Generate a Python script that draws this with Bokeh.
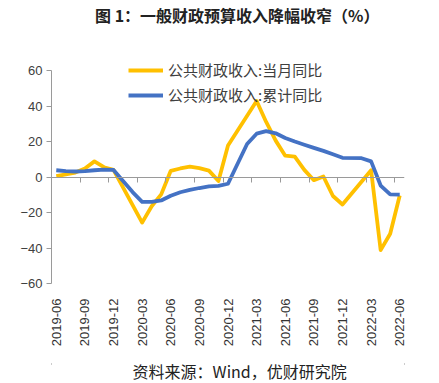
import math
from bokeh.plotting import figure
from bokeh.layouts import column
from bokeh.core.properties import value
from bokeh.models import (ColumnDataSource, FixedTicker, LinearAxis, Range1d, Legend,
                          LegendItem, CustomJSTickFormatter, Div)
from bokeh.embed import file_html
from bokeh.resources import INLINE

# ---------------- data ----------------
months = [
    "2019-06", "2019-07", "2019-08", "2019-09", "2019-10", "2019-11", "2019-12",
    "2020-01", "2020-02", "2020-03", "2020-04", "2020-05", "2020-06",
    "2020-07", "2020-08", "2020-09", "2020-10", "2020-11", "2020-12",
    "2021-01", "2021-02", "2021-03", "2021-04", "2021-05", "2021-06",
    "2021-07", "2021-08", "2021-09", "2021-10", "2021-11", "2021-12",
    "2022-01", "2022-02", "2022-03", "2022-04", "2022-05", "2022-06",
]
# 公共财政收入:当月同比 (%)
monthly_yoy = [
    0.5, 1.5, 2.5, 4.8, 8.8, 5.5, 4.0,
    None, None, -25.7, -16.5, -9.8, 3.5,
    4.8, 5.8, 5.0, 3.6, -2.3, 17.8,
    None, None, 42.8, 31.0, 20.5, 12.0,
    11.5, 4.0, -1.8, 0.3, -10.7, -15.5,
    None, None, 3.8, -41.2, -32.0, -10.4,
]
# 公共财政收入:累计同比 (%)
cumulative_yoy = [
    3.8, 3.3, 3.1, 3.3, 3.8, 4.1, 4.0,
    None, -8.5, -14.0, -14.0, -13.2, -10.6,
    -8.6, -7.3, -6.2, -5.3, -5.0, -3.8,
    None, 18.6, 24.4, 25.8, 24.6, 22.0,
    20.0, 18.2, 16.4, 14.7, 12.8, 10.8,
    None, 10.6, 8.8, -4.8, -9.8, -9.9,
]
series_names = ["公共财政收入:当月同比", "公共财政收入:累计同比"]
series_colors = ["#FFC000", "#4472C4"]
y_ticks = [-60, -40, -20, 0, 20, 40, 60]
label_step = 3
title_text = "图 1：一般财政预算收入降幅收窄（%）"
source_text = "资料来源：Wind，优财研究院"


def make_source(vals):
    xs = [i for i, v in enumerate(vals) if v is not None]
    ys = [vals[i] for i in xs]
    return ColumnDataSource(dict(x=xs, y=ys, month=[months[i] for i in xs]))


W = 439
cjk = "Noto Sans CJK SC"
rule_color = "#333333"
RULE_LEFT = 7


def text_strip(height, text, tx, ty, size, bold):
    """Text strip whose data coordinates equal its pixels (y measured up from the bottom)."""
    f = figure(width=W, height=height, output_backend="svg", toolbar_location=None,
               title=None, x_range=Range1d(0, W), y_range=Range1d(0, height),
               x_axis_type=None, y_axis_type=None, min_border=0)
    f.grid.visible = False
    f.outline_line_color = None
    f.text(x=[tx], y=[height - ty], text=[text], text_align="center", text_baseline="middle",
           text_font=value(cjk), text_font_style="bold" if bold else "normal",
           text_font_size=size, text_color="#222222")
    return f


def rule():
    html = ('<div style="width:%dpx;height:2px;margin:0 0 0 %dpx;padding:0;'
            'background:%s;"></div>' % (W - RULE_LEFT, RULE_LEFT, rule_color))
    return Div(text=html, width=W, height=2, margin=(0, 0, 0, 0))


# ---------------- title strip ----------------
TH = 28
top = text_strip(TH, title_text, 231, 14, "16px", True)

# ---------------- main chart ----------------
MH = 323
ML, MR, MT, MB = 51, 35, 10, 70
px_per_unit = 1.775
frame_h = MH - MT - MB
y_top = -60 + frame_h / px_per_unit

p = figure(width=W, height=MH, output_backend="svg", toolbar_location=None, title=None,
           x_range=Range1d(-0.5, len(months) - 0.5), y_range=Range1d(-60, y_top),
           min_border_left=ML, min_border_right=MR, min_border_top=MT, min_border_bottom=MB)
p.grid.visible = False
p.outline_line_color = None

axis_gray = "#9a9a9a"
label_font = "Liberation Sans"

ya = p.yaxis[0]
ya.ticker = FixedTicker(ticks=y_ticks)
ya.bounds = (-60, 60)
ya.axis_line_color = axis_gray
ya.major_tick_line_color = axis_gray
ya.major_tick_in = 0
ya.major_tick_out = 5
ya.minor_tick_line_color = None
ya.major_label_standoff = 4
ya.major_label_text_font = label_font
ya.major_label_text_font_size = "13px"
ya.major_label_text_color = "#404040"

xa = p.xaxis[0]
label_idx = list(range(0, len(months), label_step))
xa.ticker = FixedTicker(ticks=label_idx)
xa.major_label_overrides = {i: months[i] for i in label_idx}
xa.major_label_orientation = math.pi / 2
xa.axis_line_color = None
xa.major_tick_line_color = None
xa.minor_tick_line_color = None
xa.major_label_standoff = 9
xa.major_label_text_font = label_font
xa.major_label_text_font_size = "13px"
xa.major_label_text_color = "#333333"

zero_axis = LinearAxis(fixed_location=0,
                       ticker=FixedTicker(ticks=[i - 0.5 for i in range(label_step, len(months), label_step)]),
                       formatter=CustomJSTickFormatter(code="return ''"),
                       axis_line_color=axis_gray, axis_line_width=1.2,
                       major_tick_line_color=axis_gray, major_tick_in=0, major_tick_out=5,
                       minor_tick_line_color=None, major_label_text_font_size="1px")
p.add_layout(zero_axis, "below")

renderers = []
for vals, color in zip([monthly_yoy, cumulative_yoy], series_colors):
    r = p.line("x", "y", source=make_source(vals), line_color=color, line_width=3.8,
               line_join="round")
    renderers.append(r)

legend = Legend(items=[LegendItem(label=n, renderers=[r]) for n, r in zip(series_names, renderers)],
                location=(77, 178), orientation="vertical",
                glyph_width=35, glyph_height=20, label_height=20, spacing=4,
                padding=0, margin=0, label_standoff=5,
                label_text_font=cjk, label_text_font_size="15px",
                label_text_color="#404040",
                background_fill_alpha=0, border_line_color=None)
p.add_layout(legend, "center")

# ---------------- source strip ----------------
SH = 383 - TH - 2 - MH - 2
bottom = text_strip(SH, source_text, 234, 370.5 - (383 - SH), "16px", False)

layout = column(top, rule(), p, rule(), bottom, spacing=0)
open("out.html", "w").write(file_html(layout, INLINE))
